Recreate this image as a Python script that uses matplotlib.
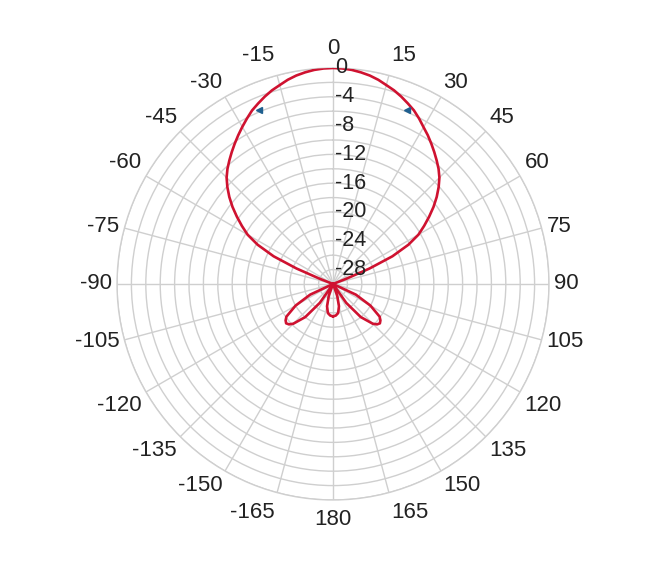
import numpy as np
import matplotlib.pyplot as plt
from matplotlib.transforms import offset_copy

# 方向图数据（角度 deg, 增益 dB）
theta_deg = [-180, -175, -170, -165, -160, -155, -150, -145, -140, -135,
             -132.5, -130, -127.5, -125, -120, -115, -110,
             -69.5, -68.5, -67, -65, -62.5, -60, -57.5, -55, -52.5, -50,
             -47.5, -45, -42.5, -40, -37.5, -35, -32.5, -30, -27.5, -25,
             -22.5, -20, -17.5, -15, -12.5, -10, -7.5, -5, -2.5, 0,
             2.5, 5, 7.5, 10, 12.5, 15, 17.5, 20, 22.5, 25, 27.5, 30, 32.5,
             35, 37.5, 40, 42.5, 45, 47.5, 50, 52.5, 55, 57.5, 60, 62.5, 65,
             67, 68.5, 69.5,
             110, 115, 120, 125, 127.5, 130, 132.5, 135, 140, 145, 150, 155,
             160, 165, 170, 175, 180]
gain_db = [-25.5, -25.6, -25.9, -26.8, -28.3, -30.0, -30.0, -26.8, -24.0, -22.2,
           -21.7, -21.5, -21.7, -22.1, -24.0, -26.5, -30.0,
           -30.0, -28.0, -24.5, -20.9, -18.2, -16.3, -15.0, -13.7, -12.4, -11.2,
           -10.1, -9.1, -8.3, -7.6, -6.9, -6.2, -5.5, -4.8, -4.1, -3.4,
           -2.85, -2.3, -1.8, -1.4, -0.95, -0.6, -0.35, -0.15, -0.04, 0.0,
           -0.04, -0.15, -0.35, -0.6, -0.95, -1.4, -1.8, -2.3, -2.85, -3.4,
           -4.1, -4.85, -5.5, -6.2, -6.9, -7.6, -8.3, -9.1, -10.1, -11.2,
           -12.4, -13.7, -15.0, -16.3, -18.2, -20.9, -24.5, -28.0, -30.0,
           -30.0, -26.5, -24.0, -22.1, -21.7, -21.5, -21.7, -22.2, -24.0,
           -26.8, -30.0, -30.0, -28.3, -26.8, -25.9, -25.6, -25.5]

# 半功率点标记
hpbw_deg = [-23, 23]
hpbw_db = [-3.8, -3.8]

# 刻度
r_min = -30
r_grid = list(range(-30, 1, 2))
r_labels = [0, -4, -8, -12, -16, -20, -24, -28]
theta_ticks = list(range(0, 360, 15))
theta_labels = [str(a) if a <= 180 else str(a - 360) for a in theta_ticks]

plt.rcParams['font.family'] = ['Liberation Sans', 'DejaVu Sans']
grid_c = '#cfcfcf'
text_c = '#222222'

fig = plt.figure(figsize=(6.72, 5.69), dpi=100)
ax = fig.add_axes([0.1741, 0.1213, 0.6429, 0.7592], projection='polar')
ax.set_theta_zero_location('N')
ax.set_theta_direction(-1)

# 曲线
r_plot = np.maximum(np.array(gain_db), r_min)
ax.plot(np.deg2rad(theta_deg), r_plot, color='#cf1230', lw=1.9, zorder=3)
ax.plot(np.deg2rad(hpbw_deg), hpbw_db, ls='none', marker='<', ms=4.5,
        color='#1f5f8f', zorder=4)

ax.set_rlim(r_min, 0)
ax.set_rticks(r_grid)
ax.set_yticklabels([])
ax.set_xticks(np.deg2rad(theta_ticks))
ax.set_xticklabels([])
ax.tick_params(axis='x', length=0)
ax.grid(True, color=grid_c, lw=1.0)
ax.spines['polar'].set_color(grid_c)
ax.spines['polar'].set_linewidth(1.0)

# 角度刻度文字：贴着外圈，按方向对齐
for a, lab in zip(theta_ticks, theta_labels):
    s = np.sin(np.deg2rad(a))
    c = np.cos(np.deg2rad(a))
    ha = 'center' if abs(s) < 0.2 else ('left' if s > 0 else 'right')
    va = 'center' if abs(c) < 0.3 else ('bottom' if c > 0 else 'top')
    gap = 1.3 if abs(c) > 0.95 else 0.7
    ax.text(np.deg2rad(a), gap, lab, ha=ha, va=va, fontsize=16, color=text_c)

# 径向刻度文字（0度方向右侧）
trans = offset_copy(ax.transData, fig=fig, x=2, y=0, units='dots')
for r in r_labels:
    ax.text(0, r, str(r), transform=trans, ha='left', va='center',
            fontsize=15.5, color=text_c, zorder=5)

plt.savefig('out.png', dpi=100)
